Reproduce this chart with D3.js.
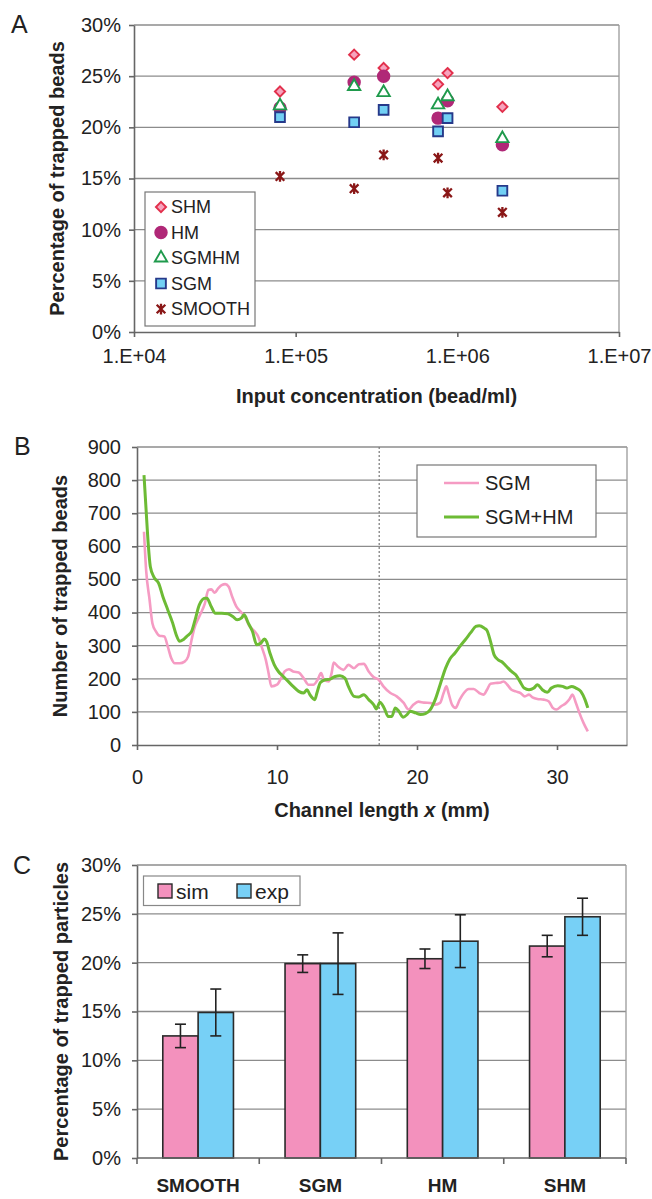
<!DOCTYPE html>
<html>
<head>
<meta charset="utf-8">
<script src="https://cdn.jsdelivr.net/npm/d3@7"></script>
<style>
  body { margin: 0; background: #fff; }
  svg text { font-family: "Liberation Sans", Arial, sans-serif; fill: #222; }
  .grid line { stroke: #8c8c8c; stroke-width: 1.3; }
  .axis path, .axis line { stroke: #666; stroke-width: 1.6; }
  .axis text { font-size: 20px; }
  .title { font-weight: bold; font-size: 20px; }
  .panel-label { font-size: 25px; }
  .frame { stroke: #9a9a9a; stroke-width: 1.3; fill: none; }
</style>
</head>
<body>
<div id="chart"></div>
<script>
// ---- panel A: trapping vs input concentration
const concentrations = [8.0e4, 2.3e5, 3.5e5, 7.6e5, 8.7e5, 1.9e6]
const shmPct    = [23.5, 27.1, 25.8, 24.2, 25.3, 22.0]
const hmPct     = [21.9, 24.4, 25.0, 20.9, 22.6, 18.3]
const sgmhmPct  = [22.1, 24.0, 23.4, 22.2, 23.0, 18.9]
const sgmPct    = [21.0, 20.5, 21.7, 19.6, 20.9, 13.8]
const smoothPct = [15.2, 14.0, 17.3, 17.0, 13.6, 11.7]
const concTicks = [1e4, 1e5, 1e6, 1e7]
const pctTicks = [0, 5, 10, 15, 20, 25, 30]

// ---- panel B: trapped beads along the channel
const sgmX = [0.5, 0.65, 0.9, 1.1, 1.35, 1.6, 1.95, 2.2, 2.45, 2.7, 3.05, 3.4, 3.65, 3.9, 4.1, 4.45, 4.85, 5.1, 5.3, 5.55,
  5.8, 6.05, 6.3, 6.55, 6.8, 7.1, 7.4, 7.7, 8.05, 8.4, 8.65, 8.9, 9.2, 9.4, 9.6, 10.0, 10.3, 10.55, 10.85, 11.15,
  11.55, 11.9, 12.25, 12.6, 12.9, 13.15, 13.35, 13.7, 13.9, 14.05, 14.35, 14.75, 15.1, 15.5, 15.85, 16.2, 16.55, 16.9, 17.25, 17.6,
  18.1, 18.55, 19.05, 19.4, 19.75, 20.1, 20.5, 20.95, 21.3, 21.65, 21.9, 22.1, 22.25, 22.5, 22.75, 23.05, 23.35, 23.7, 24.05, 24.45,
  24.75, 25.0, 25.25, 25.6, 26.0, 26.2, 26.45, 26.75, 27.05, 27.4, 27.7, 28.0, 28.25, 28.6, 29.05, 29.4, 29.7, 29.95, 30.3, 30.65,
  30.9, 31.1, 31.35, 31.6, 31.9, 32.2]
const sgmCount = [644, 529, 438, 368, 343, 330, 328, 297, 262, 247, 247, 252, 267, 318, 353, 388, 428, 468, 470, 460,
  473, 483, 486, 478, 448, 418, 403, 388, 358, 343, 328, 297, 257, 217, 177, 182, 202, 222, 229, 222,
  219, 202, 182, 182, 197, 217, 197, 192, 217, 249, 237, 227, 242, 232, 244, 245, 222, 205, 198, 177,
  157, 147, 127, 107, 122, 131, 128, 127, 122, 127, 157, 177, 157, 122, 112, 137, 157, 169, 169, 157,
  152, 167, 185, 187, 189, 192, 182, 167, 162, 157, 147, 152, 144, 139, 137, 132, 112, 107, 117, 127,
  139, 152, 127, 97, 66, 41]
const sgmHmX = [0.5, 0.65, 0.8, 0.95, 1.2, 1.55, 1.85, 2.2, 2.55, 2.8, 3.05, 3.3, 3.6, 3.9, 4.15, 4.45, 4.85, 5.0, 5.3, 5.6,
  6.05, 6.5, 6.85, 7.15, 7.45, 7.65, 7.95, 8.25, 8.55, 8.85, 9.1, 9.25, 9.5, 9.8, 10.1, 10.45, 10.8, 11.15, 11.55, 11.9,
  12.15, 12.35, 12.7, 12.85, 13.1, 13.45, 13.8, 14.15, 14.5, 14.85, 15.1, 15.5, 15.85, 16.2, 16.55, 16.9, 17.1, 17.35, 17.65, 17.95,
  18.2, 18.45, 18.7, 19.0, 19.3, 19.5, 19.9, 20.25, 20.6, 20.95, 21.3, 21.65, 22.05, 22.35, 22.7, 23.05, 23.45, 23.85, 24.2, 24.45,
  24.8, 25.0, 25.25, 25.5, 25.8, 26.1, 26.4, 26.75, 27.05, 27.35, 27.65, 28.0, 28.35, 28.6, 28.95, 29.3, 29.6, 30.05, 30.4, 30.7,
  31.05, 31.35, 31.7, 32.0, 32.2]
const sgmHmCount = [815, 710, 609, 539, 508, 488, 448, 408, 368, 333, 313, 318, 330, 343, 378, 423, 443, 443, 418, 398,
  398, 396, 388, 378, 383, 393, 368, 343, 303, 308, 320, 313, 277, 243, 222, 207, 192, 177, 162, 157,
  167, 152, 137, 157, 189, 197, 199, 207, 209, 202, 177, 147, 145, 152, 137, 122, 109, 129, 112, 86,
  86, 112, 102, 84, 92, 102, 97, 92, 95, 107, 137, 182, 233, 260, 277, 297, 318, 340, 358, 360,
  353, 346, 313, 273, 257, 250, 237, 222, 212, 192, 172, 167, 172, 182, 167, 159, 172, 179, 177, 172,
  177, 172, 162, 137, 112]
const lengthTicks = [0, 10, 20, 30]
const countTicks = [0, 100, 200, 300, 400, 500, 600, 700, 800, 900]
const markerLength = 17.3

// ---- panel C: simulated vs experimental trapping
const geometries = ['SMOOTH', 'SGM', 'HM', 'SHM']
const simPct = [12.5, 19.9, 20.4, 21.7]
const simErr = [1.2, 0.9, 1.0, 1.1]
const expPct = [14.9, 19.9, 22.2, 24.7]
const expErr = [2.4, 3.15, 2.7, 1.9]

const svg = d3.select('#chart')
  .append('svg')
  .attr('width', 652)
  .attr('height', 1199)

svg.append('rect').attr('width', 652).attr('height', 1199).attr('fill', '#fff')

drawPanelA(svg)
drawPanelB(svg)
drawPanelC(svg)

function starPath(r) {
  return `M${-r},${-r}L${r},${r}M${-r},${r}L${r},${-r}M0,${-r * 1.25}L0,${r * 1.25}`
}

function drawGrid(g, y, ticks, x0, x1) {
  g.append('g').attr('class', 'grid')
    .selectAll('line')
    .data(ticks)
    .enter()
    .append('line')
    .attr('x1', x0).attr('x2', x1)
    .attr('y1', d => y(d)).attr('y2', d => y(d))
}

function drawPanelA(svg) {
  const left = 134, right = 619, top = 25, bottom = 332
  const x = d3.scaleLog().domain([1e4, 1e7]).range([left, right])
  const y = d3.scaleLinear().domain([0, 30]).range([bottom, top])
  const g = svg.append('g')

  drawGrid(g, y, pctTicks.slice(1), left, right)
  g.append('line').attr('class', 'frame')
    .attr('x1', right).attr('x2', right).attr('y1', top).attr('y2', bottom)

  g.append('g').attr('class', 'axis')
    .attr('transform', `translate(${left},0)`)
    .call(d3.axisLeft(y).tickValues(pctTicks).tickFormat(d => d + '%').tickSize(5).tickSizeOuter(0).tickPadding(8))
  g.append('g').attr('class', 'axis')
    .attr('transform', `translate(0,${bottom})`)
    .call(d3.axisBottom(x).tickValues(concTicks)
      .tickFormat(d => '1.E+0' + Math.round(Math.log10(d))).tickSize(5).tickSizeOuter(0).tickPadding(12))

  const series = [
    { name: 'SHM', values: shmPct, shape: d3.symbolDiamond2, size: 66, fill: '#f7a3bd', stroke: '#e2304c' },
    { name: 'HM', values: hmPct, shape: d3.symbolCircle, size: 105, fill: '#b02877', stroke: '#b02877' },
    { name: 'SGMHM', values: sgmhmPct, shape: d3.symbolTriangle, size: 66, fill: '#ffffff', stroke: '#1f9a4c' },
    { name: 'SGM', values: sgmPct, shape: d3.symbolSquare, size: 95, fill: '#72d0f4', stroke: '#26398a' },
    { name: 'SMOOTH', values: smoothPct, shape: null, size: 0, fill: 'none', stroke: '#8a1717' }
  ]
  const markerPath = s => s.shape ? d3.symbol(s.shape, s.size)() : starPath(4.3)

  series.forEach(s => {
    g.append('g')
      .selectAll('path')
      .data(d3.zip(concentrations, s.values))
      .enter()
      .append('path')
      .attr('transform', d => `translate(${x(d[0])},${y(d[1])})`)
      .attr('d', markerPath(s))
      .attr('fill', s.fill)
      .attr('stroke', s.stroke)
      .attr('stroke-width', s.shape ? 1.9 : 2.3)
  })

  // legend
  const lg = g.append('g')
  lg.append('rect').attr('x', 145).attr('y', 192).attr('width', 110).attr('height', 134)
    .attr('fill', '#fff').attr('stroke', '#777').attr('stroke-width', 1.2)
  const item = lg.selectAll('.item')
    .data(series)
    .enter()
    .append('g')
    .attr('transform', (d, i) => `translate(161,${207 + i * 25.5})`)
  item.append('path')
    .attr('d', markerPath)
    .attr('fill', d => d.fill)
    .attr('stroke', d => d.stroke)
    .attr('stroke-width', d => d.shape ? 1.9 : 2.3)
  item.append('text')
    .attr('x', 10).attr('dy', '0.36em')
    .style('font-size', '18px')
    .text(d => d.name)

  svg.append('text').attr('class', 'panel-label').attr('x', 11).attr('y', 33).text('A')
  svg.append('text').attr('class', 'title')
    .attr('x', (left + right) / 2).attr('y', 403).attr('text-anchor', 'middle')
    .text('Input concentration (bead/ml)')
  svg.append('text').attr('class', 'title')
    .attr('transform', `translate(57,${(top + bottom) / 2}) rotate(-90)`)
    .attr('text-anchor', 'middle').attr('dy', '0.35em')
    .text('Percentage of trapped beads')
}

function drawPanelB(svg) {
  const left = 137, right = 627, top = 447, bottom = 745
  const x = d3.scaleLinear().domain([0, 35]).range([left, right])
  const y = d3.scaleLinear().domain([0, 900]).range([bottom, top])
  const g = svg.append('g')

  drawGrid(g, y, countTicks.slice(1), left, right)
  g.append('line').attr('class', 'frame')
    .attr('x1', right).attr('x2', right).attr('y1', top).attr('y2', bottom)

  g.append('g').attr('class', 'axis')
    .attr('transform', `translate(${left},0)`)
    .call(d3.axisLeft(y).tickValues(countTicks).tickSize(5).tickSizeOuter(0).tickPadding(11))
  g.append('g').attr('class', 'axis')
    .attr('transform', `translate(0,${bottom})`)
    .call(d3.axisBottom(x).tickValues(lengthTicks).tickSize(5).tickSizeOuter(0).tickPadding(20))

  g.append('line')
    .attr('x1', x(markerLength)).attr('x2', x(markerLength))
    .attr('y1', top).attr('y2', bottom)
    .attr('stroke', '#777').attr('stroke-width', 1.2).attr('stroke-dasharray', '2,2')

  const line = d3.line()
    .x(d => x(d[0]))
    .y(d => y(d[1]))
    .curve(d3.curveMonotoneX)

  const lines = [
    { name: 'SGM', data: d3.zip(sgmX, sgmCount), color: '#f59bc3', width: 2.6 },
    { name: 'SGM+HM', data: d3.zip(sgmHmX, sgmHmCount), color: '#6dbb35', width: 3 }
  ]

  g.selectAll('.series')
    .data(lines)
    .enter()
    .append('path')
    .attr('class', 'series')
    .attr('d', d => line(d.data))
    .attr('fill', 'none')
    .attr('stroke', d => d.color)
    .attr('stroke-width', d => d.width)
    .attr('stroke-linejoin', 'round')

  const lg = g.append('g')
  lg.append('rect').attr('x', 417).attr('y', 465).attr('width', 179).attr('height', 72)
    .attr('fill', '#fff').attr('stroke', '#777').attr('stroke-width', 1.2)
  const item = lg.selectAll('.item')
    .data(lines)
    .enter()
    .append('g')
    .attr('transform', (d, i) => `translate(444,${483 + i * 34})`)
  item.append('line')
    .attr('x1', 0).attr('x2', 35)
    .attr('stroke', d => d.color).attr('stroke-width', d => d.width)
  item.append('text')
    .attr('x', 41).attr('dy', '0.36em')
    .style('font-size', '20px')
    .text(d => d.name)

  svg.append('text').attr('class', 'panel-label').attr('x', 14).attr('y', 455).text('B')
  const t = svg.append('text').attr('class', 'title')
    .attr('x', (left + right) / 2).attr('y', 817).attr('text-anchor', 'middle')
  t.append('tspan').text('Channel length ')
  t.append('tspan').style('font-style', 'italic').text('x')
  t.append('tspan').text(' (mm)')
  svg.append('text').attr('class', 'title')
    .attr('transform', `translate(60,${(top + bottom) / 2}) rotate(-90)`)
    .attr('text-anchor', 'middle').attr('dy', '0.35em')
    .text('Number of trapped beads')
}

function drawPanelC(svg) {
  const left = 137, right = 626, top = 865, bottom = 1158
  const x = d3.scaleBand().domain(geometries).range([left, right]).padding(0)
  const sub = d3.scaleBand().domain(['sim', 'exp']).range([0, x.bandwidth()]).paddingInner(0).paddingOuter(0.73)
  const y = d3.scaleLinear().domain([0, 30]).range([bottom, top])
  const g = svg.append('g')

  drawGrid(g, y, pctTicks.slice(1), left, right)
  g.append('line').attr('class', 'frame')
    .attr('x1', right).attr('x2', right).attr('y1', top).attr('y2', bottom)

  g.append('g').attr('class', 'axis')
    .attr('transform', `translate(${left},0)`)
    .call(d3.axisLeft(y).tickValues(pctTicks).tickFormat(d => d + '%').tickSize(5).tickSizeOuter(0).tickPadding(11))

  const colors = { sim: '#f391bd', exp: '#77d0f6' }
  const rows = geometries.flatMap((c, i) => [
    { cat: c, key: 'sim', v: simPct[i], e: simErr[i] },
    { cat: c, key: 'exp', v: expPct[i], e: expErr[i] }
  ])

  g.selectAll('.bar')
    .data(rows)
    .enter()
    .append('rect')
    .attr('class', 'bar')
    .attr('x', d => x(d.cat) + sub(d.key))
    .attr('y', d => y(d.v))
    .attr('width', sub.bandwidth())
    .attr('height', d => bottom - y(d.v))
    .attr('fill', d => colors[d.key])
    .attr('stroke', '#2a2a2a')
    .attr('stroke-width', 1.6)

  const err = g.selectAll('.err')
    .data(rows)
    .enter()
    .append('g')
    .attr('class', 'err')
    .attr('transform', d => `translate(${x(d.cat) + sub(d.key) + sub.bandwidth() / 2},0)`)
    .attr('stroke', '#222').attr('stroke-width', 1.6)
  err.append('line').attr('y1', d => y(d.v + d.e)).attr('y2', d => y(d.v - d.e))
  err.append('line').attr('x1', -5.5).attr('x2', 5.5).attr('y1', d => y(d.v + d.e)).attr('y2', d => y(d.v + d.e))
  err.append('line').attr('x1', -5.5).attr('x2', 5.5).attr('y1', d => y(d.v - d.e)).attr('y2', d => y(d.v - d.e))

  // x axis: ticks on category boundaries, labels centred below
  const xa = g.append('g').attr('class', 'axis')
  xa.append('line').attr('x1', left).attr('x2', right).attr('y1', bottom).attr('y2', bottom)
  xa.selectAll('.tick')
    .data(geometries.map(c => x(c)).concat([right]))
    .enter()
    .append('line')
    .attr('x1', d => d).attr('x2', d => d)
    .attr('y1', bottom).attr('y2', bottom + 6)
  g.selectAll('.cat')
    .data(geometries)
    .enter()
    .append('text')
    .attr('class', 'title')
    .attr('x', d => x(d) + x.bandwidth() / 2)
    .attr('y', 1192)
    .attr('text-anchor', 'middle')
    .style('font-size', '19px')
    .text(d => d)

  const lg = g.append('g')
  lg.append('rect').attr('x', 143.5).attr('y', 876).attr('width', 156.5).attr('height', 29.5)
    .attr('fill', '#fff').attr('stroke', '#888').attr('stroke-width', 1.2)
  const item = lg.selectAll('.item')
    .data(['sim', 'exp'])
    .enter()
    .append('g')
    .attr('transform', (d, i) => `translate(${158 + i * 79},891)`)
  item.append('rect')
    .attr('x', 0).attr('y', -7).attr('width', 14).attr('height', 14)
    .attr('fill', d => colors[d]).attr('stroke', '#2a2a2a').attr('stroke-width', 1.4)
  item.append('text')
    .attr('x', 18).attr('dy', '0.36em')
    .style('font-size', '21px')
    .text(d => d)

  svg.append('text').attr('class', 'panel-label').attr('x', 13).attr('y', 874).text('C')
  svg.append('text').attr('class', 'title')
    .attr('transform', `translate(61,${(top + bottom) / 2}) rotate(-90)`)
    .attr('text-anchor', 'middle').attr('dy', '0.35em')
    .text('Percentage of trapped particles')
}
</script>
</body>
</html>
